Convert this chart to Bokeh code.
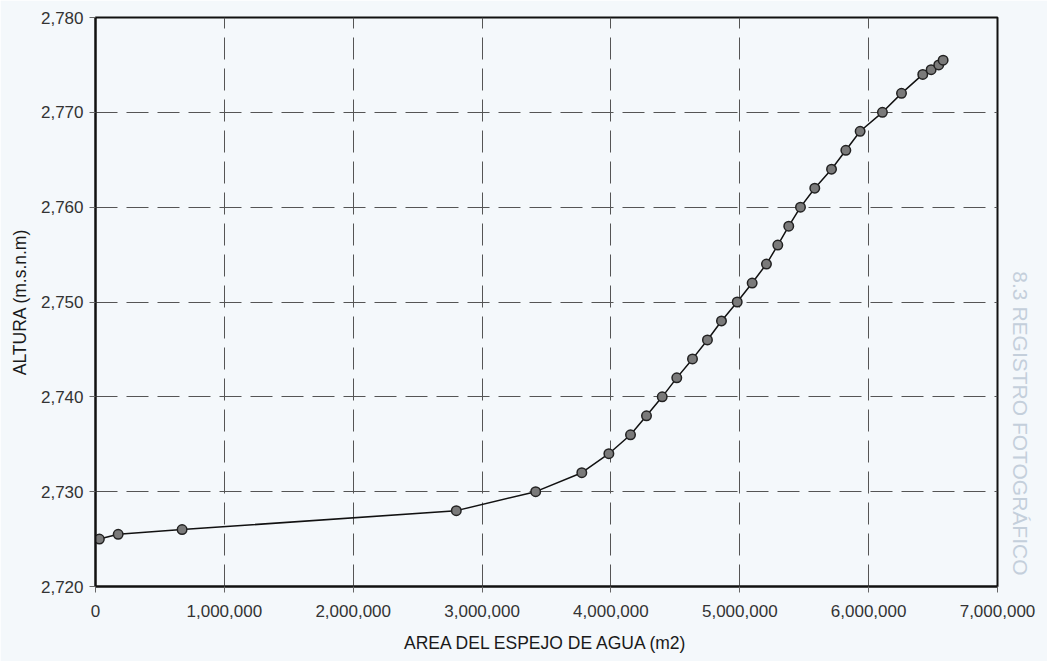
from bokeh.plotting import figure
from bokeh.models import FixedTicker, NumeralTickFormatter, Range1d, Title
from bokeh.embed import file_html
from bokeh.resources import INLINE

# Data
area_m2 = [30000, 176000, 672000, 2800000, 3416000, 3774000, 3984000, 4152000,
           4276000, 4398000, 4511000, 4633000, 4749000, 4858000, 4980000, 5096000,
           5207000, 5295000, 5380000, 5471000, 5582000, 5712000, 5823000, 5934000,
           6107000, 6255000, 6420000, 6485000, 6544000, 6578000]
altura_msnm = [2725.0, 2725.5, 2726.0, 2728.0, 2730.0, 2732.0, 2734.0, 2736.0,
               2738.0, 2740.0, 2742.0, 2744.0, 2746.0, 2748.0, 2750.0, 2752.0,
               2754.0, 2756.0, 2758.0, 2760.0, 2762.0, 2764.0, 2766.0, 2768.0,
               2770.0, 2772.0, 2774.0, 2774.5, 2775.0, 2775.5]
x_ticks = [0, 1000000, 2000000, 3000000, 4000000, 5000000, 6000000, 7000000]
y_ticks = [2720, 2730, 2740, 2750, 2760, 2770, 2780]

BG = "#f4f8fb"
FONT = "Liberation Sans"

p = figure(width=1047, height=661, output_backend="svg", toolbar_location=None,
           x_range=Range1d(0, 7000000), y_range=Range1d(2720, 2780),
           min_border_left=95, min_border_right=50, min_border_top=17,
           min_border_bottom=75)
p.background_fill_color = BG
p.border_fill_color = BG
p.outline_line_color = "#111111"
p.outline_line_width = 2

# grid
for g in (p.xgrid, p.ygrid):
    g.grid_line_color = "#555555"
    g.grid_line_width = 1
    g.grid_line_dash = "22 9"
p.xgrid.ticker = FixedTicker(ticks=x_ticks)
p.ygrid.ticker = FixedTicker(ticks=y_ticks)

# axes
p.xaxis.ticker = FixedTicker(ticks=x_ticks)
p.yaxis.ticker = FixedTicker(ticks=y_ticks)
p.xaxis.formatter = NumeralTickFormatter(format="0,0")
p.yaxis.formatter = NumeralTickFormatter(format="0,0")
for ax in (p.xaxis[0], p.yaxis[0]):
    ax.axis_line_color = "#111111"
    ax.axis_line_width = 2
    ax.major_tick_line_color = "#666666"
    ax.major_tick_in = 0
    ax.major_tick_out = 6
    ax.minor_tick_line_color = None
    ax.major_label_text_font = FONT
    ax.major_label_text_font_size = "17px"
    ax.major_label_text_color = "#333333"
    ax.axis_label_text_font = FONT
    ax.axis_label_text_font_size = "17.5px"
    ax.axis_label_text_font_style = "normal"
    ax.axis_label_text_color = "#1a1a1a"

p.xaxis.axis_label = "AREA DEL ESPEJO DE AGUA (m2)"
p.yaxis.axis_label = "ALTURA (m.s.n.m)"
p.xaxis.major_label_standoff = 12
p.xaxis.axis_label_standoff = 13
p.yaxis.major_label_standoff = 6
p.yaxis.axis_label_standoff = 8

# series
p.line(area_m2, altura_msnm, line_color="#111111", line_width=1.5)
p.scatter(area_m2, altura_msnm, size=9.5, fill_color="#7a7a7a",
          line_color="#222222", line_width=1.5)

# faint watermark text from the scanned page, in the right margin
wm = Title(text="8.3 REGISTRO FOTOGRÁFICO", align="right", offset=11,
           standoff=22, text_font=FONT, text_font_size="21px",
           text_font_style="normal", text_color="#c4cfdb")
p.add_layout(wm, "right")

open("out.html", "w").write(file_html(p, INLINE))
